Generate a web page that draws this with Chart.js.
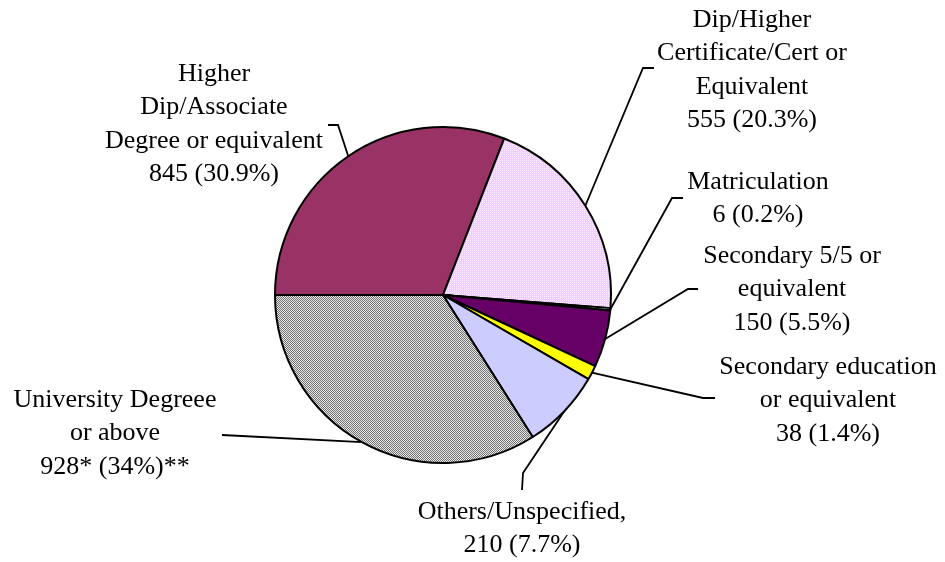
<!DOCTYPE html>
<html>
<head>
<meta charset="utf-8">
<script src="https://cdn.jsdelivr.net/npm/chart.js@4/dist/chart.umd.min.js"></script>
<style>
    body { margin: 0; background: #ffffff; }
    #chart { display: block; }
</style>
</head>
<body>
<canvas id="chart" width="945" height="562"></canvas>
<script>
// data
const categories = [
    "Higher Dip/Associate Degree or equivalent",
    "Dip/Higher Certificate/Cert or Equivalent",
    "Matriculation",
    "Secondary 5/5 or equivalent",
    "Secondary education or equivalent",
    "Others/Unspecified",
    "University Degreee or above"
];
const counts = [845, 555, 6, 150, 38, 210, 928];
const valueTexts = ["845 (30.9%)", "555 (20.3%)", "6 (0.2%)", "150 (5.5%)", "38 (1.4%)", "210 (7.7%)", "928* (34%)**"];
const labelLines = [
    ["Higher", "Dip/Associate", "Degree or equivalent"],
    ["Dip/Higher", "Certificate/Cert or", "Equivalent"],
    ["Matriculation"],
    ["Secondary 5/5 or", "equivalent"],
    ["Secondary education", "or equivalent"],
    ["Others/Unspecified,"],
    ["University Degreee", "or above"]
];

// where each label sits and how its leader line bends
const labelLayout = [
    { x: 214, y: 74, elbow: [338, 125], end: [328, 125] },
    { x: 752, y: 20, elbow: [643, 68], end: [654, 68] },
    { x: 758, y: 182, elbow: [672, 198], end: [683, 198] },
    { x: 792, y: 256, elbow: [688, 289], end: [698, 289] },
    { x: 828, y: 367, elbow: [703, 398], end: [715, 398] },
    { x: 522, y: 512, elbow: [523, 473], end: [522, 490] },
    { x: 115, y: 400, elbow: [222, 435], end: [222, 435] }
];
const lineGap = 33.5;

function makePattern(bg, fg, cells) {
    var c = document.createElement("canvas");
    c.width = cells[0].length;
    c.height = cells.length;
    var g = c.getContext("2d");
    g.fillStyle = bg;
    g.fillRect(0, 0, c.width, c.height);
    g.fillStyle = fg;
    for (var r = 0; r < cells.length; r++) {
        for (var k = 0; k < cells[r].length; k++) {
            if (cells[r][k] == "1") g.fillRect(k, r, 1, 1);
        }
    }
    return document.getElementById("chart").getContext("2d").createPattern(c, "repeat");
}

var pinkDots = makePattern("#f0ccff", "#ffeeff", ["1010", "0000", "1010", "0000"]);
var grayCheck = makePattern("#e8e8e8", "#727272", ["10", "01"]);

const sliceColors = [
    "#993366",
    pinkDots,
    "#ccffff",
    "#660066",
    "#ffff00",
    "#ccccff",
    grayCheck
];

const leaderLabels = {
    id: "leaderLabels",
    afterDraw(chart) {
        var ctx = chart.ctx;
        var arcs = chart.getDatasetMeta(0).data;
        ctx.save();
        ctx.strokeStyle = "#000000";
        ctx.lineWidth = 1.8;
        ctx.fillStyle = "#000000";
        ctx.font = "26px 'Liberation Serif', 'Times New Roman', serif";
        ctx.textAlign = "center";
        ctx.textBaseline = "middle";
        arcs.forEach(function (arc, i) {
            var p = arc.getProps(["x", "y", "startAngle", "endAngle", "outerRadius"], true);
            var mid = (p.startAngle + p.endAngle) / 2;
            var ax = p.x + Math.cos(mid) * p.outerRadius;
            var ay = p.y + Math.sin(mid) * p.outerRadius;
            var lay = labelLayout[i];
            ctx.beginPath();
            ctx.moveTo(ax, ay);
            ctx.lineTo(lay.elbow[0], lay.elbow[1]);
            ctx.lineTo(lay.end[0], lay.end[1]);
            ctx.stroke();
            var lines = labelLines[i].concat([valueTexts[i]]);
            lines.forEach(function (t, j) {
                ctx.fillText(t, lay.x, lay.y + j * lineGap);
            });
        });
        ctx.restore();
    }
};

new Chart(document.getElementById("chart").getContext("2d"), {
    type: "pie",
    data: {
        labels: categories,
        datasets: [
            {
                data: counts,
                backgroundColor: sliceColors,
                borderColor: "#000000",
                borderWidth: 2
            }
        ]
    },
    options: {
        responsive: false,
        animation: false,
        devicePixelRatio: 1,
        rotation: 270,
        layout: {
            padding: { top: 126, bottom: 98, left: 274, right: 333 }
        },
        plugins: {
            legend: { display: false },
            tooltip: { enabled: false }
        }
    },
    plugins: [leaderLabels]
});
</script>
</body>
</html>
